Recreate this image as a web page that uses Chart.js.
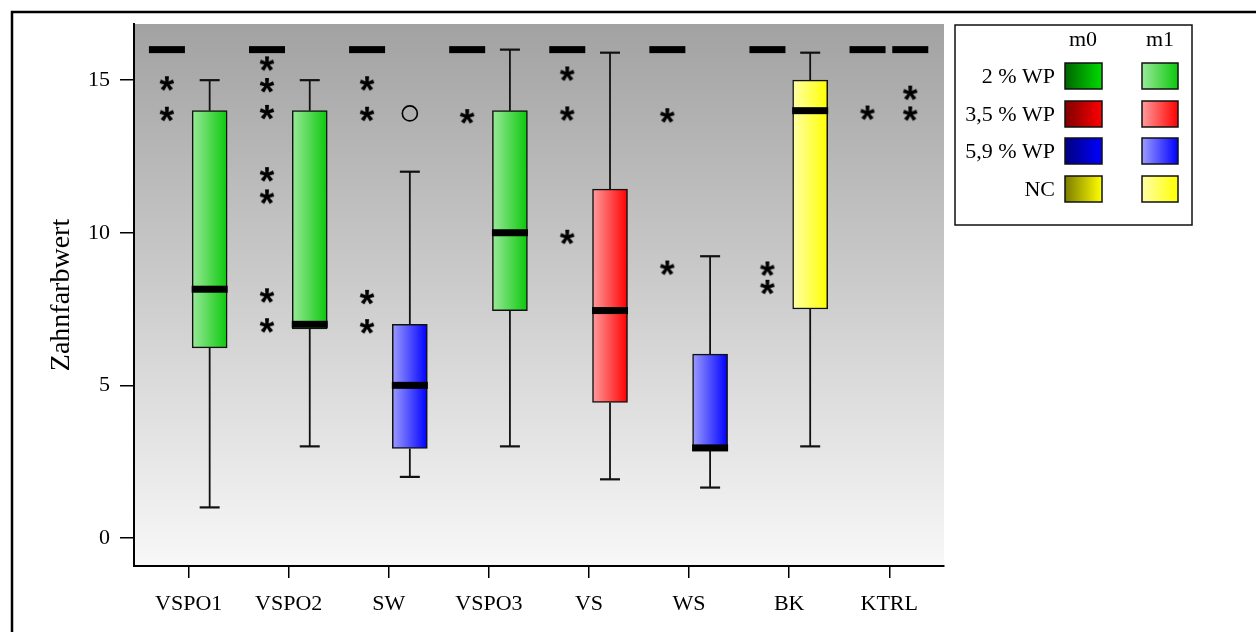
<!DOCTYPE html>
<html><head><meta charset="utf-8">
<script src="https://cdn.jsdelivr.net/npm/chart.js@4.4.0/dist/chart.umd.min.js"></script>
<style>html,body{margin:0;padding:0;background:#fff;}canvas{display:block;}</style>
</head><body>
<canvas id="c" width="1256" height="632"></canvas>
<script>
// ---------------- data ----------------
const categories = ['VSPO1','VSPO2','SW','VSPO3','VS','WS','BK','KTRL'];
const groupColor = ['green','green','blue','green','red','blue','yellow','yellow'];

const m0Min    = [16,16,16,16,16,16,16,16];
const m0Q1     = [16,16,16,16,16,16,16,16];
const m0Median = [16,16,16,16,16,16,16,16];
const m0Q3     = [16,16,16,16,16,16,16,16];
const m0Max    = [16,16,16,16,16,16,16,16];

const m1Min    = [1, 3, 2, 3, 1.92, 1.65, 3, 16];
const m1Q1     = [6.23, 6.85, 2.93, 7.45, 4.44, 2.85, 7.5, 16];
const m1Median = [8.15, 7.0, 5.0, 10.0, 7.45, 2.95, 14.0, 16];
const m1Q3     = [14, 14, 7, 14, 11.43, 6.02, 15, 16];
const m1Max    = [15, 15, 12, 16, 15.9, 9.23, 15.9, 16];

const m0Extremes = [[14.9,13.9],[15.55,14.84,13.96,11.92,11.19,7.95,6.97],[14.9,13.9,7.9,6.94],[13.82],[15.22,13.91,9.87],[13.85,8.86],[8.83,8.23],[13.94]];
const m1Extremes = [[],[],[],[],[],[],[],[14.59,13.91]];
const m1Outliers = [[],[],[13.91],[],[],[],[],[]];

const yTicks = [0,5,10,15];
const yTitle = 'Zahnfarbwert';
const legendRows = ['2 % WP','3,5 % WP','5,9 % WP','NC'];
const legendRowColors = ['green','red','blue','yellow'];
const legendCols = ['m0','m1'];

// ---------------- style ----------------
const palette = {
  green:  {m0:['#006400','#00dc00'], m1:['#9ae99a','#0cc80c']},
  red:    {m0:['#800000','#ff0000'], m1:['#ff9c9c','#ff0000']},
  blue:   {m0:['#000080','#0000ff'], m1:['#9c9cff','#0000ff']},
  yellow: {m0:['#7c7c00','#ffff00'], m1:['#ffffa8','#ffff00']}
};
const OFF0 = -0.217, OFF1 = 0.21;
const BOXW = 35, CAPW = 20;
const FONT = '"Liberation Serif", "Times New Roman", serif';

function makeAsterisk(){
  const c = document.createElement('canvas'); c.width = 28; c.height = 28;
  const g = c.getContext('2d');
  g.fillStyle = '#000'; g.font = 'bold 38px "Liberation Sans", Arial, sans-serif';
  g.textAlign = 'left'; g.textBaseline = 'alphabetic';
  const m = g.measureText('*');
  const w = m.actualBoundingBoxLeft + m.actualBoundingBoxRight;
  const h = m.actualBoundingBoxAscent + m.actualBoundingBoxDescent;
  g.fillText('*', 14 - w/2 + m.actualBoundingBoxLeft, 14 - h/2 + m.actualBoundingBoxAscent);
  return c;
}
const asterisk = makeAsterisk();

function gradFor(chart, raw, colors){
  const xs = chart.scales && chart.scales.x;
  if (!xs || !chart.chartArea) return colors[1];
  const cx = xs.getPixelForValue(raw.x);
  if (!isFinite(cx)) return colors[1];
  const g = chart.ctx.createLinearGradient(cx - BOXW/2, 0, cx + BOXW/2, 0);
  g.addColorStop(0, colors[0]); g.addColorStop(1, colors[1]);
  return g;
}

const boxData = (off, q1, q3, key) => categories.map((c,i)=>({x:i+1+off, y:[q1[i], q3[i]], g:groupColor[i], k:key}));
const ptData = (off, arr) => arr.flatMap((a,i)=>a.map(v=>({x:i+1+off, y:v})));

function drawParts(chart, off, mins, q1s, meds, q3s, maxs, phase){
  const {ctx, scales:{x, y}} = chart;
  ctx.save();
  ctx.strokeStyle = '#111'; ctx.fillStyle = '#000';
  categories.forEach((c,i)=>{
    const cx = x.getPixelForValue(i+1+off);
    if (phase === 'whisker'){
      const pairs = [[q3s[i], maxs[i]], [q1s[i], mins[i]]];
      pairs.forEach(([from,to])=>{
        if (from === to) return;
        const y0 = y.getPixelForValue(from), y1 = y.getPixelForValue(to);
        ctx.lineWidth = 1.8;
        ctx.beginPath(); ctx.moveTo(cx, y0); ctx.lineTo(cx, y1); ctx.stroke();
        ctx.lineWidth = 2.2;
        ctx.beginPath(); ctx.moveTo(cx - CAPW/2, y1); ctx.lineTo(cx + CAPW/2, y1); ctx.stroke();
      });
    } else {
      const ym = y.getPixelForValue(meds[i]);
      ctx.fillRect(cx - BOXW/2 - 0.5, ym - 3.5, BOXW + 1, 7);
    }
  });
  ctx.restore();
}

const partsPlugin = {
  id: 'parts',
  beforeDraw(chart){
    const {ctx, chartArea:a} = chart;
    ctx.save();
    ctx.fillStyle = '#fff'; ctx.fillRect(0, 0, chart.width, chart.height);
    const g = ctx.createLinearGradient(0, a.top, 0, a.bottom);
    g.addColorStop(0, '#a2a2a2'); g.addColorStop(1, '#f8f8f8');
    ctx.fillStyle = g; ctx.fillRect(a.left, a.top, a.right - a.left, a.bottom - a.top);
    ctx.strokeStyle = '#000'; ctx.lineWidth = 2.5;
    ctx.strokeRect(12, 12, chart.width + 20, chart.height + 20);
    ctx.restore();
  },
  beforeDatasetsDraw(chart){
    drawParts(chart, OFF0, m0Min, m0Q1, m0Median, m0Q3, m0Max, 'whisker');
    drawParts(chart, OFF1, m1Min, m1Q1, m1Median, m1Q3, m1Max, 'whisker');
  },
  afterDatasetsDraw(chart){
    drawParts(chart, OFF0, m0Min, m0Q1, m0Median, m0Q3, m0Max, 'median');
    drawParts(chart, OFF1, m1Min, m1Q1, m1Median, m1Q3, m1Max, 'median');
  },
  afterDraw(chart){
    const ctx = chart.ctx;
    ctx.save();
    const L = 955, T = 25, R = 1192, B = 225;
    ctx.fillStyle = '#fff'; ctx.fillRect(L, T, R-L, B-T);
    ctx.strokeStyle = '#111'; ctx.lineWidth = 1.5; ctx.strokeRect(L, T, R-L, B-T);
    ctx.fillStyle = '#000'; ctx.font = '22px ' + FONT; ctx.textBaseline = 'middle';
    const colX = [1083, 1160];
    ctx.textAlign = 'center';
    legendCols.forEach((t,j)=> ctx.fillText(t, colX[j], 40));
    const rowY = [76, 114, 151, 189];
    const swX = [[1065, 1102], [1142, 1178]];
    legendRows.forEach((t,r)=>{
      ctx.textAlign = 'right'; ctx.fillStyle = '#000';
      ctx.fillText(t, 1055, rowY[r] + 1);
      ['m0','m1'].forEach((k,j)=>{
        const [x0,x1] = swX[j];
        const cols = palette[legendRowColors[r]][k];
        const g = ctx.createLinearGradient(x0, 0, x1, 0);
        g.addColorStop(0, cols[0]); g.addColorStop(1, cols[1]);
        ctx.fillStyle = g; ctx.fillRect(x0, rowY[r]-13, x1-x0, 26);
        ctx.strokeStyle = '#111'; ctx.lineWidth = 1.5; ctx.strokeRect(x0, rowY[r]-13, x1-x0, 26);
      });
    });
    ctx.restore();
  }
};

Chart.defaults.font.family = FONT;
Chart.defaults.color = '#000';

new Chart(document.getElementById('c'), {
  type: 'bar',
  data: {
    datasets: [
      {
        data: boxData(OFF0, m0Q1, m0Q3, 'm0'),
        backgroundColor: (c)=> (c.raw && c.raw.g) ? gradFor(c.chart, c.raw, palette[c.raw.g].m0) : '#000',
        borderColor: '#111', borderWidth: 1.5, borderSkipped: false,
        barThickness: BOXW, grouped: false, order: 2
      },
      {
        data: boxData(OFF1, m1Q1, m1Q3, 'm1'),
        backgroundColor: (c)=> (c.raw && c.raw.g) ? gradFor(c.chart, c.raw, palette[c.raw.g].m1) : '#000',
        borderColor: '#111', borderWidth: 1.5, borderSkipped: false,
        barThickness: BOXW, grouped: false, order: 2
      },
      {
        type: 'scatter',
        data: ptData(OFF0, m0Extremes).concat(ptData(OFF1, m1Extremes)),
        pointStyle: asterisk, radius: 6, order: 1
      },
      {
        type: 'scatter',
        data: ptData(OFF1, m1Outliers),
        pointStyle: 'circle', radius: 7.5, borderWidth: 1.6,
        borderColor: '#000', backgroundColor: 'rgba(0,0,0,0)', order: 1
      }
    ]
  },
  options: {
    responsive: false, animation: false, events: [],
    layout: {padding: {left: 0, right: 312, top: 24, bottom: 0}},
    plugins: {legend: {display: false}, tooltip: {enabled: false}},
    scales: {
      x: {
        type: 'linear', min: 0.454, max: 8.547, offset: false,
        grid: {display: true, drawOnChartArea: false, offset: false, tickLength: 12, color: '#000', lineWidth: 1.5},
        border: {display: true, color: '#000', width: 2},
        afterBuildTicks: (s)=>{ s.ticks = categories.map((c,i)=>({value: i+1})); },
        afterFit: (s)=>{ s.height = 66; },
        ticks: {autoSkip: false, maxRotation: 0, padding: 13, font: {size: 22},
                callback: (v, i)=> categories[i]}
      },
      y: {
        type: 'linear', min: -0.92, max: 16.84,
        grid: {display: true, drawOnChartArea: false, tickLength: 14, color: '#000', lineWidth: 1.5},
        border: {display: true, color: '#000', width: 2},
        afterBuildTicks: (s)=>{ s.ticks = yTicks.map(v=>({value: v})); },
        afterFit: (s)=>{ s.width = 134; },
        ticks: {padding: 10, font: {size: 22}, callback: (v)=> String(v)},
        title: {display: true, text: yTitle, font: {size: 28}, padding: {top: 45}}
      }
    }
  },
  plugins: [partsPlugin]
});
</script>
</body></html>
